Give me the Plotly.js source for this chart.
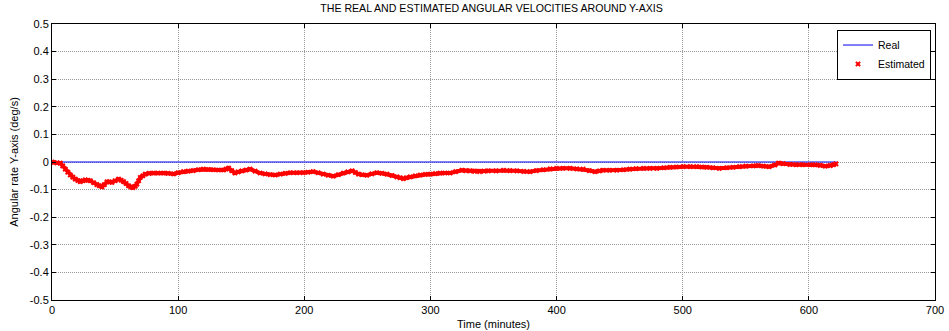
<!DOCTYPE html>
<html>
<head>
<meta charset="utf-8">
<script src="https://cdn.plot.ly/plotly-3.0.1.min.js"></script>
<style>html,body{margin:0;padding:0;background:#fff;}#chart{width:949px;height:331px;}</style>
</head>
<body>
<div id="chart"></div>
<script>
// Time (minutes) for estimated samples
const timeEst = [0,1.3,4,6.6,8.5,10.5,12.5,14.5,16.5,18.5,20.5,22.4,24.5,26.4,28.5,30.4,33,35.6,37.5,39.6,41.5,43.6,45.5,47.5,50,52.8,54.8,56.7,58.7,60.7,62.5,64.1,66,67.3,68.7,70,72,74,77,80.5,84,88.4,92,96.4,100,104.3,108,112,116,120,124,128,132,136,138,140,142.5,145,147.5,150.5,154,157,161,165,169,173,177,181,185,189,194,199,203,207,211,215,219,223,227,231,234.5,238,240.5,243,246,249.6,253.5,257.5,261.5,265.5,269.5,273.4,276,278.6,281,284,288,292,296,300,304,307.7,311.5,315.6,320,325,328,331.5,335,339,342.5,346,352,358,363,368.5,374,379,384,389.5,395,400,405,410.6,416,421,426,430.5,434,437,442,447.7,453,458,463,469,474,479.5,485,490,495,500.5,506,511,515,519,524,529,534.8,540,545,550,556,560,564,568.5,573,576,579.7,585,590,595,601,605,609,613,617,619.5,621.5];
const estimated = [0,-0.002,-0.003,-0.004,-0.014,-0.026,-0.037,-0.047,-0.055,-0.062,-0.067,-0.071,-0.068,-0.065,-0.066,-0.068,-0.075,-0.082,-0.086,-0.09,-0.082,-0.072,-0.072,-0.074,-0.068,-0.062,-0.066,-0.071,-0.078,-0.086,-0.09,-0.093,-0.088,-0.08,-0.068,-0.056,-0.05,-0.044,-0.041,-0.04,-0.04,-0.04,-0.041,-0.043,-0.039,-0.035,-0.033,-0.031,-0.028,-0.026,-0.027,-0.028,-0.029,-0.029,-0.026,-0.022,-0.031,-0.04,-0.036,-0.032,-0.029,-0.026,-0.033,-0.04,-0.043,-0.046,-0.047,-0.044,-0.041,-0.039,-0.039,-0.039,-0.037,-0.035,-0.039,-0.044,-0.048,-0.051,-0.046,-0.04,-0.036,-0.032,-0.038,-0.044,-0.046,-0.048,-0.043,-0.039,-0.041,-0.044,-0.049,-0.054,-0.057,-0.06,-0.057,-0.054,-0.05,-0.047,-0.045,-0.044,-0.042,-0.04,-0.04,-0.04,-0.035,-0.03,-0.031,-0.032,-0.034,-0.035,-0.033,-0.032,-0.032,-0.03,-0.031,-0.032,-0.034,-0.035,-0.031,-0.028,-0.025,-0.023,-0.023,-0.023,-0.025,-0.026,-0.031,-0.035,-0.032,-0.03,-0.03,-0.03,-0.028,-0.026,-0.024,-0.023,-0.023,-0.023,-0.021,-0.019,-0.018,-0.017,-0.017,-0.017,-0.018,-0.019,-0.021,-0.023,-0.021,-0.019,-0.017,-0.015,-0.014,-0.013,-0.015,-0.017,-0.011,-0.004,-0.006,-0.009,-0.01,-0.01,-0.01,-0.01,-0.012,-0.015,-0.013,-0.01,-0.007,-0.004];
// Real angular rate (constant zero)
const timeReal = [0, 622];
const real = [0, 0];
// Axis ticks
const xTicks = [0,100,200,300,400,500,600,700];
const yTicks = [0.5,0.4,0.3,0.2,0.1,0,-0.1,-0.2,-0.3,-0.4,-0.5];
const yTickText = ["0.5","0.4","0.3","0.2","0.1","0","-0.1","-0.2","-0.3","-0.4","-0.5"];

const fam = 'Liberation Sans, Arial, sans-serif';
const font = {family: fam, size: 11, color: '#000'};

const traces = [
  {x: timeReal, y: real, mode: 'lines', name: 'Real', line: {color: '#0000ee', width: 1}},
  {x: timeEst, y: estimated, mode: 'lines', showlegend: false, hoverinfo: 'skip',
   line: {color: '#ff0000', width: 4}},
  {x: timeEst, y: estimated, mode: 'markers', name: 'Estimated',
   marker: {symbol: 'x', size: 5, color: '#ff0000'}}
];

const layout = {
  width: 949, height: 331,
  margin: {l: 52, r: 14, t: 24, b: 31, pad: 0},
  paper_bgcolor: '#fff', plot_bgcolor: '#fff',
  font: font,
  title: {text: 'THE REAL AND ESTIMATED ANGULAR VELOCITIES AROUND Y-AXIS',
          font: {family: fam, size: 10.6, color: '#000'}, x: 0.518, xanchor: 'center', y: 0.985, yanchor: 'top'},
  showlegend: true,
  legend: {x: 0.9955, xanchor: 'right', y: 0.98, yanchor: 'top', bgcolor: '#fff',
           bordercolor: '#000', borderwidth: 1, font: {family: fam, size: 10.5, color: '#000'},
           tracegroupgap: 0, itemwidth: 30, tracegroupgap: 0},
  xaxis: {range: [0, 700], tickvals: xTicks, ticktext: xTicks.map(String),
          showline: true, linecolor: '#000', linewidth: 1, mirror: 'ticks',
          ticks: 'inside', ticklen: 4, tickcolor: '#000',
          showgrid: true, gridcolor: '#999', griddash: '1px,1px', gridwidth: 1,
          zeroline: false, tickfont: {family: fam, size: 11, color: '#000'},
          title: {text: 'Time (minutes)', font: {family: fam, size: 11, color: '#000'}, standoff: 5}},
  yaxis: {range: [-0.5, 0.5], tickvals: yTicks, ticktext: yTickText,
          showline: true, linecolor: '#000', linewidth: 1, mirror: 'ticks',
          ticks: 'inside', ticklen: 4, tickcolor: '#000',
          showgrid: true, gridcolor: '#999', griddash: '1px,1px', gridwidth: 1,
          zeroline: false, tickfont: {family: fam, size: 11, color: '#000'},
          title: {text: 'Angular rate Y-axis (deg/s)', font: {family: fam, size: 11, color: '#000'}, standoff: 8}}
};

Plotly.newPlot('chart', traces, layout, {displayModeBar: false, staticPlot: true});
</script>
</body>
</html>
